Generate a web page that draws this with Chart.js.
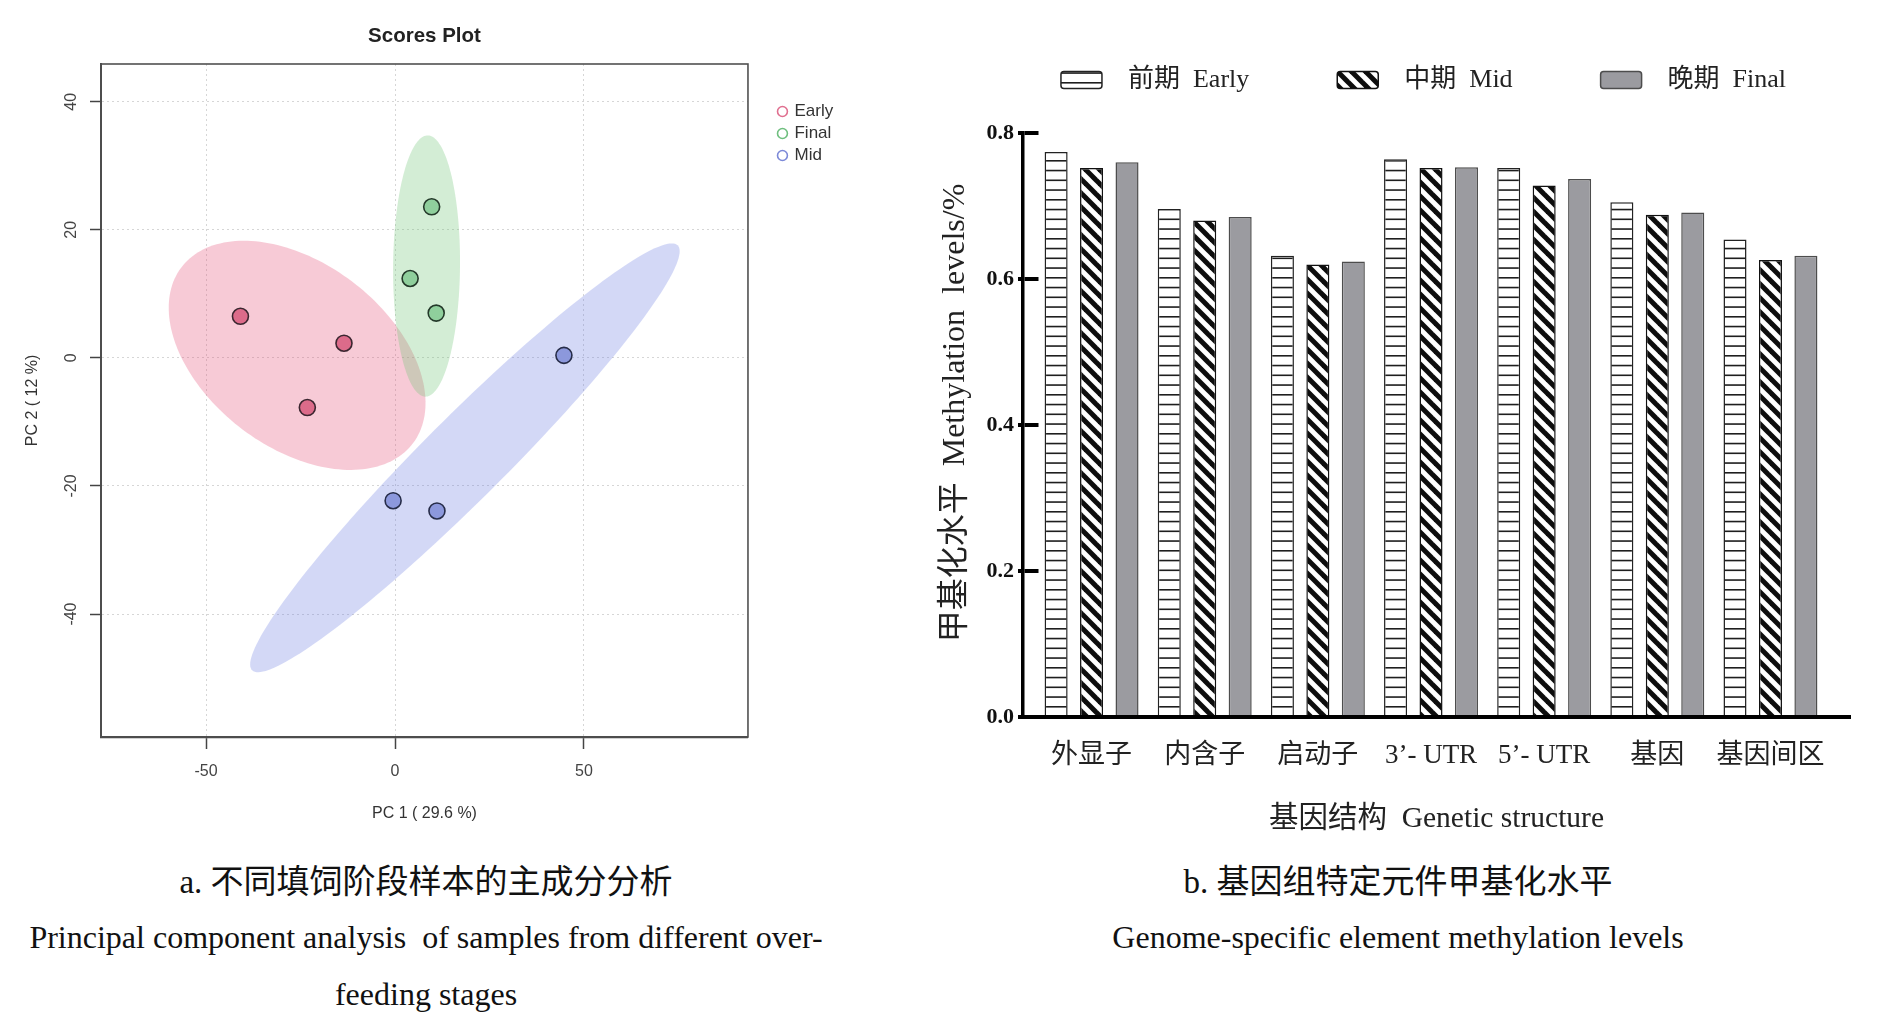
<!DOCTYPE html>
<html><head><meta charset="utf-8">
<script src="https://cdn.jsdelivr.net/npm/chart.js@4.4.1/dist/chart.umd.min.js"></script>
<style>
html,body{margin:0;padding:0;background:#fff;overflow:hidden;width:1893px;height:1030px;position:relative;}
#c1{position:absolute;left:0;top:0;}
#c2{position:absolute;left:930px;top:0;}
.cap{position:absolute;text-align:center;color:#111;font-family:'Liberation Serif','Noto Sans CJK SC',serif;white-space:nowrap;}
</style></head><body>
<canvas id="c1" width="900" height="860"></canvas>
<canvas id="c2" width="963" height="860"></canvas>
<div class="cap" style="left:0;width:852px;top:862px;font-size:33px;line-height:40px;">a. 不同填饲阶段样本的主成分分析</div>
<div class="cap" style="left:0;width:852px;top:918px;font-size:32px;line-height:38px;">Principal component analysis&nbsp; of samples from different over-</div>
<div class="cap" style="left:0;width:852px;top:975px;font-size:32px;line-height:38px;">feeding stages</div>
<div class="cap" style="left:998px;width:800px;top:862px;font-size:33px;line-height:40px;">b. 基因组特定元件甲基化水平</div>
<div class="cap" style="left:998px;width:800px;top:918px;font-size:32px;line-height:38px;">Genome-specific element methylation levels</div>
<script>
// ---------- PCA scores (panel a) ----------
const pcaGroups = ['Early', 'Final', 'Mid'];
const earlyPC1 = [-40.9, -13.5, -23.2];
const earlyPC2 = [6.5, 2.3, -7.75];
const finalPC1 = [9.7, 4.0, 10.9];
const finalPC2 = [23.6, 12.4, 7.0];
const midPC1 = [44.7, -0.5, 11.1];
const midPC2 = [0.4, -22.3, -23.9];
// confidence ellipses (data units): centre, semi-axes, rotation
const ellipseCenterX = [-25.9, 8.35, 18.5];
const ellipseCenterY = [0.4, 14.35, -15.6];
const ellipseSemiMajor = [35.0, 20.4, 65.5];
const ellipseSemiMinor = [15.8, 8.85, 7.8];
const ellipseAngleDeg = [-15.6, 89, 30.05];
const pcaXTicks = [-50, 0, 50];
const pcaYTicks = [-40, -20, 0, 20, 40];

// ---------- Methylation levels (panel b) ----------
const structures = ['外显子', '内含子', '启动子', '3’- UTR', '5’- UTR', '基因', '基因间区'];
const stageLabels = ['前期  Early', '中期  Mid', '晚期  Final'];
const earlyLevels = [0.774, 0.696, 0.632, 0.764, 0.752, 0.705, 0.654];
const midLevels = [0.752, 0.680, 0.620, 0.752, 0.728, 0.688, 0.626];
const finalLevels = [0.760, 0.685, 0.624, 0.753, 0.737, 0.691, 0.632];
const barYTicks = [0, 0.2, 0.4, 0.6, 0.8];

// ---------- styles ----------
const pointFill = ['#dc6b8a', '#8fcf9c', '#8c98dc'];
const pointEdge = ['#3b2630', '#24392a', '#262c48'];
const legendRing = ['#e07090', '#6fbf7f', '#7d8ad8'];
const ellipseFill = ['rgba(230,80,120,0.3)', 'rgba(110,195,115,0.3)', 'rgba(110,125,225,0.3)'];

const ellipsePlugin = {
  id: 'confEllipses',
  beforeDatasetsDraw(chart) {
    const {ctx, chartArea, scales} = chart;
    const xs = scales.x, ys = scales.y;
    ctx.save();
    ctx.beginPath();
    ctx.rect(chartArea.left, chartArea.top, chartArea.width, chartArea.height);
    ctx.clip();
    ellipseCenterX.forEach((cx, k) => {
      const a = ellipseSemiMajor[k], b = ellipseSemiMinor[k], th = ellipseAngleDeg[k] * Math.PI / 180;
      ctx.beginPath();
      for (let i = 0; i <= 180; i++) {
        const t = i / 180 * 2 * Math.PI;
        const dx = a * Math.cos(t) * Math.cos(th) - b * Math.sin(t) * Math.sin(th);
        const dy = a * Math.cos(t) * Math.sin(th) + b * Math.sin(t) * Math.cos(th);
        const px = xs.getPixelForValue(cx + dx), py = ys.getPixelForValue(ellipseCenterY[k] + dy);
        if (i) ctx.lineTo(px, py); else ctx.moveTo(px, py);
      }
      ctx.closePath();
      ctx.fillStyle = ellipseFill[k];
      ctx.fill();
    });
    ctx.restore();
  }
};
const boxPlugin = {
  id: 'plotBox',
  afterDatasetsDraw(chart) {
    const {ctx, chartArea: a} = chart;
    ctx.save();
    ctx.strokeStyle = '#505050';
    ctx.lineWidth = 1.6;
    ctx.strokeRect(a.left, a.top, a.right - a.left, a.bottom - a.top);
    ctx.restore();
  }
};

const sans = "'Liberation Sans', Arial, sans-serif";
const serif = "'Liberation Serif', 'Noto Sans CJK SC', serif";

const pcaSets = [[earlyPC1, earlyPC2], [finalPC1, finalPC2], [midPC1, midPC2]].map((p, k) => ({
  label: pcaGroups[k],
  data: p[0].map((v, i) => ({x: v, y: p[1][i]})),
  backgroundColor: pointFill[k],
  borderColor: pointEdge[k],
  borderWidth: 1.6,
  pointRadius: 8,
  xAxisID: 'x', yAxisID: 'y'
}));

const ch1 = new Chart(document.getElementById('c1'), {
  type: 'scatter',
  data: {datasets: pcaSets},
  options: {
    responsive: false, animation: false, devicePixelRatio: 1,
    layout: {padding: {left: 0, top: 0, right: 56.8, bottom: 0}},
    plugins: {
      title: {display: true, text: 'Scores Plot', fullSize: false, color: '#222',
        font: {family: sans, size: 20.5, weight: 'bold'}, padding: {top: 24.2, bottom: 15.2}},
      legend: {position: 'right', align: 'start', fullSize: false,
        title: {display: true, text: ' ', font: {size: 10}, padding: {top: 22, bottom: 0}},
        labels: {usePointStyle: true, boxWidth: 7, boxHeight: 7, padding: 5, color: '#333',
          font: {family: sans, size: 17},
          generateLabels(chart) {
            return chart.data.datasets.map((d, i) => ({
              text: d.label, fillStyle: 'rgba(0,0,0,0)', strokeStyle: legendRing[i], lineWidth: 1.6,
              pointStyle: 'circle', datasetIndex: i, hidden: false, fontColor: '#333'
            }));
          }}},
      tooltip: {enabled: false}
    },
    scales: {
      x: {type: 'linear', min: -77.8, max: 93.4,
        afterBuildTicks: s => { s.ticks = pcaXTicks.map(v => ({value: v})); },
        afterFit: s => { s.height = 123; },
        ticks: {padding: 12.5, color: '#444', font: {family: sans, size: 16}, maxRotation: 0, autoSkip: false},
        grid: {color: '#d6d6d6', lineWidth: 1, tickColor: '#444', tickLength: 12, tickWidth: 1.5},
        border: {display: true, color: '#444', width: 2.2, dash: [2, 3]},
        title: {display: true, text: 'PC 1 ( 29.6 %)', color: '#333', font: {family: sans, size: 16}, padding: {top: 0, bottom: 36.4}}},
      y: {type: 'linear', min: -59.2, max: 45.9,
        afterBuildTicks: s => { s.ticks = pcaYTicks.map(v => ({value: v})); },
        afterFit: s => { s.width = 101; },
        ticks: {minRotation: 90, maxRotation: 90, crossAlign: 'center', padding: 7, color: '#444', font: {family: sans, size: 16}, autoSkip: false},
        grid: {color: '#d6d6d6', lineWidth: 1, tickColor: '#444', tickLength: 11, tickWidth: 1.5},
        border: {display: true, color: '#444', width: 2, dash: [2, 3]},
        title: {display: true, text: 'PC 2 ( 12 %)', color: '#333', font: {family: sans, size: 16}, padding: {top: 23.4, bottom: 0}}},
      yRight: {type: 'linear', position: 'right', display: true,
        grid: {display: false, drawTicks: false}, ticks: {display: false}, border: {display: false},
        afterFit: s => { s.width = 26; }}
    }
  },
  plugins: [ellipsePlugin, boxPlugin]
});

// ---------- patterns ----------
const ctx2 = document.getElementById('c2').getContext('2d');
function hLinePattern() {
  const c = document.createElement('canvas'); c.width = 8; c.height = 39;
  const g = c.getContext('2d');
  g.fillStyle = '#fff'; g.fillRect(0, 0, 8, 39);
  g.fillStyle = '#1e1e1e';
  [0, 9.75, 19.5, 29.25].forEach(y => g.fillRect(0, y + 4, 8, 1.6));
  return ctx2.createPattern(c, 'repeat');
}
function diagPattern() {
  const c = document.createElement('canvas'); c.width = 14; c.height = 14;
  const g = c.getContext('2d');
  g.fillStyle = '#fff'; g.fillRect(0, 0, 14, 14);
  g.strokeStyle = '#0d0d0d'; g.lineWidth = 5;
  [-14, 0, 14].forEach(k => { g.beginPath(); g.moveTo(k - 3, -3); g.lineTo(k + 17, 17); g.stroke(); });
  return ctx2.createPattern(c, 'repeat');
}
const EM = '\u2003\u2003\u2003';
const barFills = [hLinePattern(), diagPattern(), '#9b9ba0'];
const barEdges = ['#222', '#111', '#4d4d4d'];
const barSets = [earlyLevels, midLevels, finalLevels].map((vals, k) => ({
  label: '  ' + stageLabels[k] + (k < 2 ? EM : '\u2003'),
  data: vals.map((v, i) => ({x: i, y: v})),
  backgroundColor: barFills[k],
  borderColor: barEdges[k],
  borderWidth: 1.5,
  xAxisID: 'x', yAxisID: 'y'
}));

new Chart(document.getElementById('c2'), {
  type: 'bar',
  data: {datasets: barSets},
  options: {
    responsive: false, animation: false, devicePixelRatio: 1,
    layout: {padding: {left: 0, top: 57, right: 43, bottom: 0}},
    datasets: {bar: {categoryPercentage: 0.94, barPercentage: 0.65}},
    plugins: {
      legend: {position: 'top', align: 'center', fullSize: false,
        labels: {boxWidth: 41, boxHeight: 17, padding: 10, color: '#222', useBorderRadius: true, borderRadius: 3,
          font: {family: serif, size: 26}}},
      tooltip: {enabled: false}
    },
    scales: {
      x: {type: 'linear', offset: false, min: -0.606, max: 6.703,
        afterBuildTicks: s => { s.ticks = structures.map((_, i) => ({value: i})); },
        afterFit: s => { s.height = 143; },
        ticks: {callback: v => structures[v], padding: 23, autoSkip: false, maxRotation: 0, color: '#222',
          font: {family: serif, size: 27}},
        grid: {display: false, drawTicks: false},
        border: {display: true, color: '#000', width: 4},
        title: {display: true, text: '基因结构  Genetic structure', color: '#222', font: {family: serif, size: 29.5},
          padding: {top: 0, bottom: 23.3}}},
      y: {type: 'linear', min: 0, max: 0.8,
        afterBuildTicks: s => { s.ticks = barYTicks.map(v => ({value: v})); },
        afterFit: s => { s.width = 93; },
        ticks: {callback: v => v.toFixed(1), padding: 4, color: '#111', font: {family: serif, size: 22, weight: 'bold'}},
        grid: {drawOnChartArea: true, color: '#000', lineWidth: 4, drawTicks: true, tickLength: 5, tickColor: '#000', tickWidth: 4},
        border: {display: true, color: '#000', width: 3.5, dash: [14, 4000]},
        title: {display: true, text: '\u2002 甲基化水平  Methylation  levels/%', color: '#222', font: {family: serif, size: 32},
          padding: {top: 6, bottom: 0}}},
      xTop: {type: 'linear', position: 'top', display: true,
        grid: {display: false, drawTicks: false}, ticks: {display: false}, border: {display: false},
        afterFit: s => { s.height = 30; }}
    }
  }
});
</script>
</body></html>
